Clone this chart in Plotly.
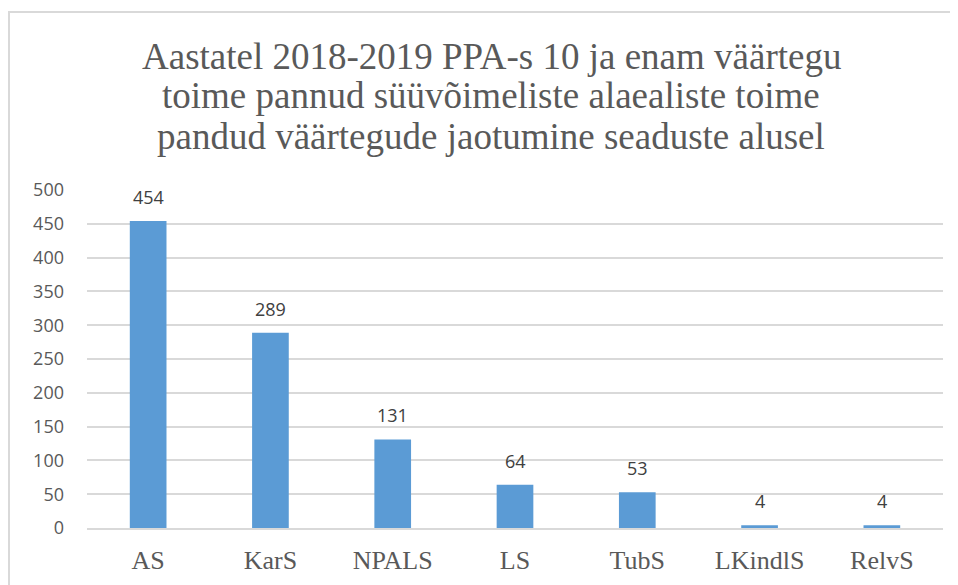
import plotly.graph_objects as go

categories = ["AS", "KarS", "NPALS", "LS", "TubS", "LKindlS", "RelvS"]
values = [454, 289, 131, 64, 53, 4, 4]
y_ticks = [0, 50, 100, 150, 200, 250, 300, 350, 400, 450, 500]

title_lines = ["Aastatel 2018-2019 PPA-s 10 ja enam väärtegu",
               "toime pannud süüvõimeliste alaealiste toime",
               "pandud väärtegude jaotumine seaduste alusel"]

# page is offset by the body margin (8px); work in page pixels and subtract it
OFF = 8
W, H = 958, 585
L, R, T, B = 87 - OFF, 958 - 943 + OFF, 190 - OFF, 585 - 528 + OFF
pw, ph = W - L - R, H - T - B

def px_x(px):
    return (px - OFF - L) / pw

def px_y(py):
    return (H - B - (py - OFF)) / ph

fig = go.Figure()
fig.add_trace(go.Bar(
    x=categories, y=values,
    marker=dict(color="#5B9BD5", line=dict(width=0)),
    showlegend=False, hoverinfo="x+y",
))

for c, v in zip(categories, values):
    fig.add_annotation(x=c, y=v, text=str(v), showarrow=False,
                       yanchor="middle", yshift=24,
                       font=dict(family="Open Sans, sans-serif", size=18, color="#404040"))

for i, line in enumerate(title_lines):
    fig.add_annotation(xref="paper", yref="paper", x=px_x(491), y=px_y(56 + 40 * i),
                       xanchor="center", yanchor="middle", showarrow=False, text=line,
                       font=dict(family="Liberation Serif, Times New Roman, serif", size=37, color="#595959"))

fig.add_shape(type="rect", xref="paper", yref="paper",
              x0=px_x(9), x1=px_x(1000),
              y0=px_y(640), y1=px_y(12),
              line=dict(color="#d9d9d9", width=2), fillcolor="rgba(0,0,0,0)", layer="below")

fig.update_layout(
    width=W, height=H,
    margin=dict(l=L, r=R, t=T, b=B),
    paper_bgcolor="white", plot_bgcolor="white",
    bargap=0.7,
    xaxis=dict(showgrid=False, showline=True, linecolor="#d9d9d9", linewidth=1.5,
               ticks="", ticklabelstandoff=8,
               tickfont=dict(family="Liberation Serif, Times New Roman, serif", size=26, color="#595959")),
    yaxis=dict(range=[0, 500], tickvals=y_ticks, showgrid=True, gridcolor="#d9d9d9", gridwidth=1.5,
               zeroline=False, showline=False, ticks="", ticklabelstandoff=22,
               tickfont=dict(family="Open Sans, sans-serif", size=18, color="#595959")),
)

fig.write_html("out.html")
